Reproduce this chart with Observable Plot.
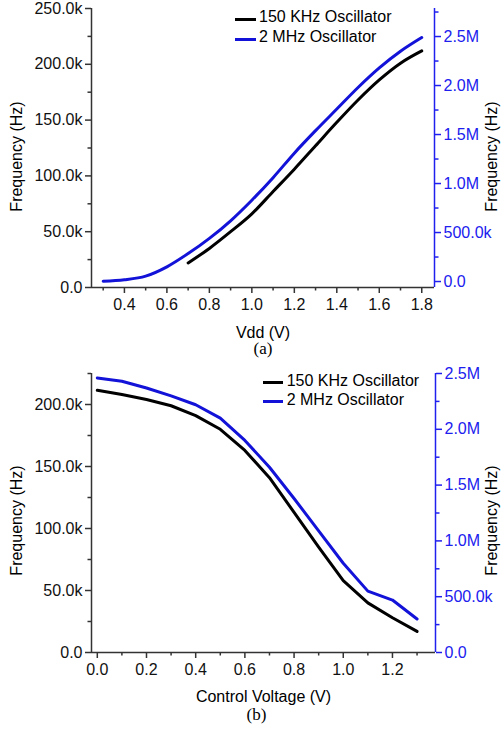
<!DOCTYPE html>
<html><head><meta charset="utf-8">
<script src="https://cdn.jsdelivr.net/npm/d3@7"></script>
<script src="https://cdn.jsdelivr.net/npm/@observablehq/plot@0.6"></script>
<style>
body{margin:0;background:#fff;font-family:"Liberation Sans",Arial,sans-serif;}
#fig{position:relative;width:501px;height:729px;overflow:hidden;background:#fff;}
#fig svg{display:block;}
.lg{position:absolute;font-size:16px;line-height:16px;color:#000;white-space:nowrap;font-family:"Liberation Sans",Arial,sans-serif;}
.sw{position:absolute;height:3px;}
</style></head><body><div id="fig"></div>
<script>
// ---------- Panel (a): frequency vs Vdd ----------
const vdd150A = [0.7,0.8,0.9,1.0,1.1,1.2,1.3,1.4,1.5,1.6,1.7,1.8];
const f150A   = [22000,35000,50000,66000,86000,106000,127000,148000,168000,186000,201000,212000];
const vdd2MA  = [0.3,0.4,0.5,0.6,0.7,0.8,0.9,1.0,1.1,1.2,1.3,1.4,1.5,1.6,1.7,1.8];
const f2MA    = [3000,18000,55000,150000,285000,440000,620000,830000,1060000,1310000,1540000,1760000,1980000,2180000,2350000,2490000];
const xTicksA = [0.4,0.6,0.8,1.0,1.2,1.4,1.6,1.8];
const xLabelsA = ["0.4","0.6","0.8","1.0","1.2","1.4","1.6","1.8"];
const xMinorA = [0.3,0.5,0.7,0.9,1.1,1.3,1.5,1.7];
const leftTicksA = [0,50000,100000,150000,200000,250000];
const leftLabelsA = ["0.0","50.0k","100.0k","150.0k","200.0k","250.0k"];
const leftMinorA = [25000,75000,125000,175000,225000];
const rightTicksA = [0,500000,1000000,1500000,2000000,2500000];
const rightLabelsA = ["0.0","500.0k","1.0M","1.5M","2.0M","2.5M"];
const rightMinorA = [250000,750000,1250000,1750000,2250000,2750000];

// ---------- Panel (b): frequency vs control voltage ----------
const ctrlB  = [0.0,0.1,0.2,0.3,0.4,0.5,0.6,0.7,0.8,0.9,1.0,1.1,1.2,1.3];
const f150B  = [211500,208000,204000,199000,191000,180000,163000,141000,113000,85000,58000,40000,28000,17000];
const f2MB   = [2460000,2430000,2370000,2300000,2220000,2100000,1900000,1660000,1380000,1090000,800000,550000,470000,300000];
const xTicksB = [0.0,0.2,0.4,0.6,0.8,1.0,1.2];
const xLabelsB = ["0.0","0.2","0.4","0.6","0.8","1.0","1.2"];
const xMinorB = [0.1,0.3,0.5,0.7,0.9,1.1,1.3];
const leftTicksB = [0,50000,100000,150000,200000];
const leftLabelsB = ["0.0","50.0k","100.0k","150.0k","200.0k"];
const leftMinorB = [25000,75000,125000,175000,225000];
const rightTicksB = [0,500000,1000000,1500000,2000000,2500000];
const rightLabelsB = ["0.0","500.0k","1.0M","1.5M","2.0M","2.5M"];
const rightMinorB = [250000,750000,1250000,1750000,2250000];

const seriesNames = ["150 KHz Oscillator","2 MHz Oscillator"];

const BLUE = "#1212d8";
const BLUE_AX = "#2020ee";
const AX = "#333";
const TXT = "#111";
const SANS = "Liberation Sans, Arial, sans-serif";
const SERIF = "Liberation Serif, Times New Roman, serif";

function panel(o) {
  const toLeft = v => (v - o.r0) / (o.r1 - o.r0) * o.lmax;
  const d150 = o.x150.map((x, i) => ({x, y: o.y150[i]}));
  const d2M = o.x2M.map((x, i) => ({x, y: toLeft(o.y2M[i])}));
  return Plot.plot({
    width: 501, height: o.height,
    marginLeft: 91, marginRight: o.mr, marginTop: o.mt, marginBottom: o.mb,
    x: {domain: o.xdom, axis: null},
    y: {domain: [0, o.lmax], axis: null},
    style: {fontFamily: SANS, fontSize: "16px", background: "white", overflow: "visible"},
    marks: [
      Plot.line(d2M, {x: "x", y: "y", stroke: BLUE, strokeWidth: 3, curve: o.curve}),
      Plot.line(d150, {x: "x", y: "y", stroke: "#000", strokeWidth: 3, curve: o.curve}),
      Plot.ruleX([o.xdom[0]], {stroke: AX, strokeWidth: 1.5}),
      Plot.ruleX([o.xdom[1]], {stroke: BLUE_AX, strokeWidth: 1.5}),
      Plot.ruleY([0], {stroke: AX, strokeWidth: 1.5}),
      Plot.axisY(o.lt, {anchor: "left", tickSize: 6, tickPadding: 3, text: (d, i) => o.ll[i], stroke: AX, fill: TXT, strokeWidth: 1.5, fontSize: 16, label: null}),
      Plot.axisY(o.lm, {anchor: "left", tickSize: 3.5, fill: "none", stroke: AX, strokeWidth: 1.5, label: null}),
      Plot.axisY(o.rt.map(toLeft), {anchor: "right", tickSize: 6, tickPadding: 3, text: (d, i) => o.rl[i], stroke: BLUE_AX, fill: BLUE_AX, strokeWidth: 1.5, fontSize: 16, label: null}),
      Plot.axisY(o.rm.map(toLeft), {anchor: "right", tickSize: 3.5, fill: "none", stroke: BLUE_AX, strokeWidth: 1.5, label: null}),
      Plot.axisX(o.xt, {anchor: "bottom", tickSize: 6, tickPadding: 5, text: (d, i) => o.xl[i], stroke: AX, fill: TXT, strokeWidth: 1.5, fontSize: 16, label: null}),
      Plot.axisX(o.xm, {anchor: "bottom", tickSize: 3.5, fill: "none", stroke: AX, strokeWidth: 1.5, label: null}),
      Plot.text([o.xtitle], {frameAnchor: "bottom", text: d => d, dy: o.xtdy, lineAnchor: "middle", fontSize: 16, fill: "#000"}),
      Plot.text(["Frequency (Hz)"], {frameAnchor: "left", text: d => d, rotate: -90, dx: -74.5, dy: o.ytdy, textAnchor: "middle", lineAnchor: "middle", fontSize: 16, fill: "#000"}),
      Plot.text(["Frequency (Hz)"], {frameAnchor: "right", text: d => d, rotate: -90, dx: o.rtdx, dy: o.ytdy, textAnchor: "middle", lineAnchor: "middle", fontSize: 16, fill: "#000"}),
      Plot.text([o.cap], {frameAnchor: "bottom", text: d => d, dy: o.capdy, dx: o.capdx, lineAnchor: "middle", fontSize: 17, fontFamily: SERIF, fill: "#000"})
    ]
  });
}

const fig = document.getElementById("fig");
fig.appendChild(panel({
  height: 362, mt: 8, mb: 75, mr: 67,
  xdom: [0.245, 1.86], lmax: 250000, r0: -61000, r1: 2786000,
  x150: vdd150A, y150: f150A, x2M: vdd2MA, y2M: f2MA, curve: "monotone-x",
  lt: leftTicksA, ll: leftLabelsA, lm: leftMinorA,
  rt: rightTicksA, rl: rightLabelsA, rm: rightMinorA,
  xt: xTicksA, xl: xLabelsA, xm: xMinorA,
  xtitle: "Vdd (V)", xtdy: 45, ytdy: 8.5, rtdx: 57.5, cap: "(a)", capdy: 61.5, capdx: 0
}));
fig.appendChild(panel({
  height: 367, mt: 11, mb: 77, mr: 66,
  xdom: [-0.0236, 1.375], lmax: 225000, r0: 0, r1: 2500000,
  x150: ctrlB, y150: f150B, x2M: ctrlB, y2M: f2MB, curve: "linear",
  lt: leftTicksB, ll: leftLabelsB, lm: leftMinorB,
  rt: rightTicksB, rl: rightLabelsB, rm: rightMinorB,
  xt: xTicksB, xl: xLabelsB, xm: xMinorB,
  xtitle: "Control Voltage (V)", xtdy: 44, ytdy: 7.5, rtdx: 56.5, cap: "(b)", capdy: 62.5, capdx: -7
}));

// legends (HTML overlay)
function legend(items) {
  items.forEach(it => {
    const s = document.createElement("div");
    s.className = "sw";
    s.style.left = it.sx + "px"; s.style.top = it.sy + "px"; s.style.width = it.sw + "px";
    s.style.background = it.color;
    fig.appendChild(s);
    const t = document.createElement("div");
    t.className = "lg";
    t.style.left = it.tx + "px"; t.style.top = it.ty + "px";
    t.textContent = it.label;
    fig.appendChild(t);
  });
}
legend([
  {label: seriesNames[0], color: "#000", sx: 235, sy: 17.8, sw: 21, tx: 259, ty: 9.2},
  {label: seriesNames[1], color: BLUE, sx: 235, sy: 37.8, sw: 21, tx: 259, ty: 28.8},
  {label: seriesNames[0], color: "#000", sx: 262.7, sy: 381.2, sw: 20, tx: 286.7, ty: 372.5},
  {label: seriesNames[1], color: BLUE, sx: 262.7, sy: 400.2, sw: 20, tx: 286.7, ty: 392.2}
]);
</script></body></html>
